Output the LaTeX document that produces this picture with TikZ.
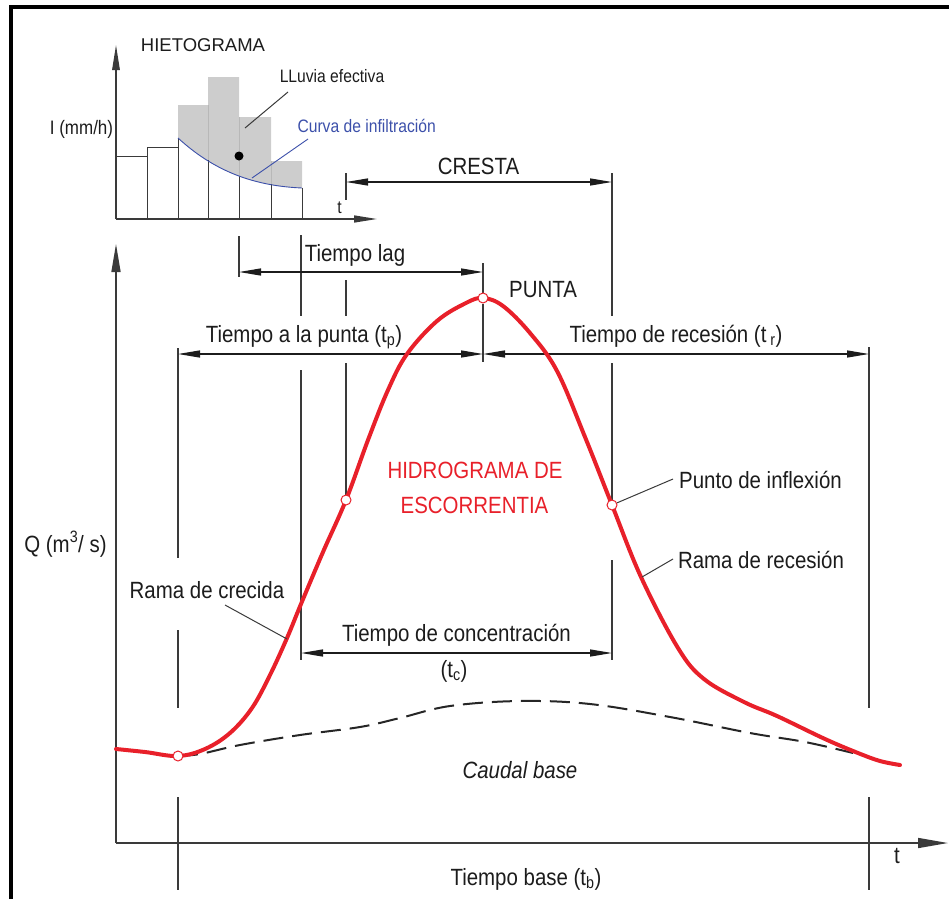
\documentclass[tikz,border=0pt]{standalone}
\usepackage{fontspec}
\setmainfont{Liberation Sans}[FakeStretch=0.87]
\newfontfamily\hfont{Liberation Sans}
\usetikzlibrary{arrows.meta}
\definecolor{txt}{HTML}{1C1C1C}
\definecolor{hred}{HTML}{E8202A}
\definecolor{iblue}{HTML}{3C50AA}
\definecolor{refc}{HTML}{3A3A3A}
\definecolor{hgray}{HTML}{CDCDCD}
\tikzset{
  lbl/.style={anchor=base, inner sep=0pt, text=txt, font=\fontsize{23.5}{26}\selectfont},
  slbl/.style={anchor=base, inner sep=0pt, text=txt, font=\fontsize{18}{20}\selectfont},
  dimline/.style={draw=txt, line width=1.3pt, {Triangle[length=22pt,width=7pt]}-{Triangle[length=22pt,width=7pt]}},
  refl/.style={draw=refc, line width=1.2pt},
  leader/.style={draw=refc, line width=1pt},
  axisl/.style={draw=refc, line width=1.5pt},
  barl/.style={draw=refc, line width=1pt},
  hpt/.style={circle, draw=hred, fill=white, line width=1pt, minimum size=10pt, inner sep=0pt},
}
\begin{document}
\begin{tikzpicture}[x=1pt,y=-1pt]
\useasboundingbox (0,0) rectangle (949,899);
% frame
\draw[line width=4pt] (11,899) -- (11,7) -- (949,7);

% ---------------- hietograma ----------------
\fill[hgray] (178,138) -- (178,105) -- (208,105) -- (208,77) -- (239,77) -- (239,117)
  -- (271,117) -- (271,161) -- (302,161) -- (302,188)
  .. controls (255,186) and (215,172) .. (178,138) -- cycle;
\draw[black!28, line width=0.6pt] (208,105) -- (208,159.5) (239,117) -- (239,176) (271,161) -- (271,184);
% bars
\draw[barl] (116,156) -- (147,156) (147,219) -- (147,147) -- (178,147) (178,219) -- (178,138)
  (208,219) -- (208,159.5) (239,219) -- (239,176) (271,219) -- (271,184.2) (302,219) -- (302,188);
% infiltration curve
\draw[iblue, line width=0.9pt] (178,138) .. controls (215,172) and (255,186) .. (302,188);
% axes
\draw[axisl, -{Triangle[length=25pt,width=7.5pt]}] (116,219) -- (116,45);
\draw[axisl, -{Triangle[length=23pt,width=7pt]}] (116,219) -- (377,219);
\node[circle, fill=black, minimum size=9pt, inner sep=0pt] (cg) at (239,156) {};
\node[anchor=base, inner sep=0pt, text=txt, font=\hfont\fontsize{18.5}{20}\selectfont] (hieto) at (203,51.5) {HIETOGRAMA};
\node[slbl] (lluvia) at (332,82.5) {LLuvia efectiva};
\node[slbl, text=iblue] (curva) at (366.7,132.5) {Curva de infiltración};
\node[anchor=base, inner sep=0pt, text=txt, font=\fontsize{19.5}{21}\selectfont] (imm) at (81.5,134) {I (mm/h)};
\node[slbl] (th) at (339.5,213) {t};
\coordinate (llA) at (288,92); \coordinate (llB) at (245,128);
\draw[leader] (llA) -- (llB);
\coordinate (cuA) at (308,139); \coordinate (cuB) at (252,178);
\draw[iblue, line width=0.9pt] (cuA) -- (cuB);

% ---------------- reference verticals ----------------
\draw[refl] (346,173) -- (346,200) (346,280) -- (346,316) (346,363) -- (346,495);
\draw[refl] (612,173) -- (612,316) (612,363) -- (612,500) (612,560) -- (612,660);
\draw[refl] (483,263) -- (483,293) (483,304) -- (483,362);
\draw[refl] (301,235) -- (301,316) (301,370) -- (301,660);
\draw[refl] (239,236) -- (239,277);
\draw[refl] (178,348) -- (178,558) (178,630) -- (178,708) (178,797) -- (178,890);
\draw[refl] (869,347) -- (869,708) (869,797) -- (869,890);

% ---------------- dimension lines ----------------
\coordinate (crL) at (346,182); \coordinate (crR) at (612,182);
\draw[dimline] (crL) -- (crR);
\coordinate (lgL) at (239,272); \coordinate (lgR) at (483,272);
\draw[dimline] (lgL) -- (lgR);
\coordinate (tpL) at (178,354); \coordinate (tpR) at (483,354);
\draw[dimline] (tpL) -- (tpR);
\coordinate (trL) at (483,354); \coordinate (trR) at (869,354);
\draw[dimline] (trL) -- (trR);
\coordinate (tcL) at (301,653); \coordinate (tcR) at (612,653);
\draw[dimline] (tcL) -- (tcR);

% ---------------- main axes ----------------
\draw[axisl, -{Triangle[length=28pt,width=9pt]}] (116,843) -- (116,244);
\draw[axisl, -{Triangle[length=30pt,width=10pt]}] (116,843) -- (948,843);

% ---------------- base flow ----------------
\draw[black!85, line width=2pt, dash pattern=on 20pt off 9pt]
  plot[smooth, tension=0.6] coordinates {(178,756) (200,754) (240,745) (300,735) (360,727) (400,718) (450,706) (520,701) (590,704) (670,717) (750,733) (805,742) (853,753)};

% ---------------- hydrograph ----------------
\draw[hred, line width=4pt, line cap=round]
  plot[smooth, tension=0.6] coordinates {(116,749) (145,752) (178,756) (205,749) (230,733) (252,708) (270,675) (287,638) (301,604) (323,552) (346,500) (368,440) (388,390) (407,354) (437,321) (466,303) (483,298) (503,306) (530,333) (557,371) (585,437) (612,505) (641,577) (678,648) (704,679) (744,702) (777,716) (825,739) (858,753) (880,761) (900,765)};

\node[hpt] (st) at (178,756) {};
\node[hpt] (inf1) at (346,500) {};
\node[hpt] (pk) at (483,298) {};
\node[hpt] (inf2) at (612,505) {};

% ---------------- labels ----------------
\node[lbl] (cresta) at (478.5,174.3) {CRESTA};
\node[lbl] (lag) at (355,261) {Tiempo lag};
\node[lbl] (punta) at (543,297) {PUNTA};
\node[lbl] (tp) at (304,342) {Tiempo a la punta (t\textsubscript{p})};
\node[lbl] (tr) at (676,342) {Tiempo de recesión (t\,\textsubscript{r})};
\node[lbl, text=hred] (h1) at (475,478.5) {HIDROGRAMA DE};
\node[lbl, text=hred] (h2) at (474.5,513.5) {ESCORRENTIA};
\node[lbl] (pinf) at (760.5,488) {Punto de inflexión};
\node[lbl] (rrec) at (761,568) {Rama de recesión};
\node[lbl] (rcre) at (207,598) {Rama de crecida};
\node[lbl] (q) at (65.5,552) {Q (m\textsuperscript{3}/ s)};
\node[lbl] (tconc) at (456.5,641.7) {Tiempo de concentración};
\node[lbl] (tcs) at (454,677) {(t\textsubscript{c})};
\node[lbl, font=\fontsize{23.5}{26}\selectfont\itshape] (cb) at (520,778.5) {Caudal base};
\node[lbl] (tm) at (897,863) {t};
\node[lbl] (tb) at (526,885) {Tiempo base (t\textsubscript{b})};

% leaders
\coordinate (rcA) at (225,605); \coordinate (rcB) at (287,639);
\draw[leader] (rcA) -- (rcB);
\coordinate (piA) at (673,479);
\draw[leader] (inf2) -- (piA);
\coordinate (rrA) at (673,559); \coordinate (rrB) at (642,577);
\draw[leader] (rrA) -- (rrB);
\end{tikzpicture}
\end{document}
